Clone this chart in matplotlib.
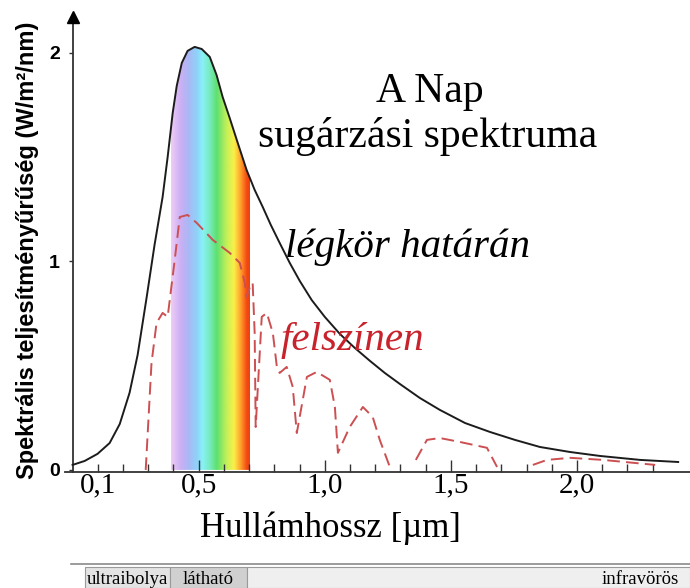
import matplotlib.pyplot as plt
import numpy as np
from matplotlib.colors import LinearSegmentedColormap

# wavelength in µm, spectral irradiance in W/m^2/nm (top of atmosphere)
top_wl = [0.000, 0.048, 0.099, 0.147, 0.187, 0.226, 0.258, 0.294, 0.325, 0.357, 0.377,
          0.397, 0.413, 0.433, 0.456, 0.484, 0.512, 0.544, 0.571, 0.595, 0.623, 0.651,
          0.690, 0.722, 0.754, 0.786, 0.821, 0.861, 0.901, 0.948, 1.000, 1.060, 1.119,
          1.179, 1.238, 1.298, 1.377, 1.456, 1.556, 1.655, 1.754, 1.853, 1.972, 2.091,
          2.250, 2.401]
top_val = [0.024, 0.043, 0.077, 0.129, 0.220, 0.370, 0.552, 0.830, 1.079, 1.309, 1.501,
           1.712, 1.842, 1.952, 2.010, 2.029, 2.019, 1.981, 1.894, 1.789, 1.688, 1.583,
           1.439, 1.343, 1.261, 1.175, 1.089, 0.993, 0.906, 0.815, 0.734, 0.652, 0.585,
           0.523, 0.465, 0.412, 0.345, 0.288, 0.225, 0.182, 0.144, 0.110, 0.086, 0.067,
           0.048, 0.038]

# surface curve, NaN marks the absorption gaps
surf_wl = [0.290, 0.313, 0.333, 0.357, 0.377, 0.405, 0.425, 0.456, 0.492, 0.556, 0.623,
           0.663, 0.683, 0.690, 0.706, 0.714, 0.722, 0.726, 0.750, 0.770, 0.794, 0.810,
           0.821, 0.849, 0.873, 0.889, 0.929, 0.968, 1.020, 1.040, 1.052, 1.099, 1.151,
           1.190, 1.218, 1.258, 1.30,
           1.361, 1.405, 1.456, 1.536, 1.643, 1.683, 1.75,
           1.825, 1.881, 1.972, 2.103, 2.310]
surf_val = [0.0, 0.513, 0.705, 0.753, 0.734, 1.007, 1.213, 1.223, 1.185, 1.103, 1.041,
            0.993, 0.897, 0.830, 0.887, 0.897, 0.657, 0.206, 0.734, 0.753, 0.657, 0.494,
            0.465, 0.494, 0.398, 0.177, 0.446, 0.470, 0.432, 0.302, 0.082, 0.206, 0.302,
            0.254, 0.144, 0.014, np.nan,
            0.048, 0.144, 0.153, 0.134, 0.106, 0.014, np.nan,
            0.024, 0.048, 0.058, 0.048, 0.024]

x_tick_pos = [0.1, 0.5, 1.0, 1.5, 2.0]
x_tick_lab = ['0,1', '0,5', '1,0', '1,5', '2,0']
y_tick_pos = [0, 1, 2]

band_names = ['ultraibolya', 'látható', 'infravörös']
band_edges = [0.05, 0.385, 0.69, 2.448]
band_colors = ['#e4e4e4', '#d0d0d0', '#efefef']
band_label_x = [0.2175, 0.5375, 2.25]

visible = (0.39, 0.70)
rainbow = [(0.0, '#efcdf6'), (0.12, '#cbb0f3'), (0.22, '#aab8f5'), (0.33, '#8ed2f9'),
           (0.40, '#88f2f6'), (0.48, '#7aecc8'), (0.58, '#5ee070'), (0.71, '#c6f058'),
           (0.80, '#fbf048'), (0.89, '#ff9a2a'), (0.96, '#f44a12'), (1.0, '#f0400c')]

serif = 'Liberation Serif'
sans = 'Liberation Sans'

fig = plt.figure(figsize=(6.9, 5.88), dpi=100)
ax = fig.add_axes([65 / 690, 116 / 588, 625 / 690, 457 / 588])
ax.set_xlim(-0.03, 2.448)
ax.set_ylim(-0.01, 2.182)

# rainbow fill under the curve in the visible range
cmap = LinearSegmentedColormap.from_list('vis', rainbow)
grad = np.linspace(0, 1, 256)[None, :]
im = ax.imshow(grad, cmap=cmap, aspect='auto', extent=[visible[0], visible[1], 0, 2.1],
               zorder=1, interpolation='bilinear')
clip = ax.fill_between(top_wl, top_val, 0, color='none', zorder=0)
im.set_clip_path(clip.get_paths()[0], transform=ax.transData)

ax.plot(top_wl, top_val, color='#1c1c1c', lw=1.4, zorder=3)
ax.plot(surf_wl, surf_val, color='#cc4f52', lw=1.4, ls=(0, (6.5, 3.2)), zorder=3)

# axes styling
for s in ['top', 'right']:
    ax.spines[s].set_visible(False)
ax.spines['left'].set_position(('data', 0))
ax.spines['left'].set_color('#333333')
ax.spines['left'].set_linewidth(1.3)
ax.spines['bottom'].set_color('#333333')
ax.spines['bottom'].set_linewidth(1.3)
ax.plot(0, 0.995, marker='^', color='black', markersize=9, transform=ax.get_xaxis_transform(),
        clip_on=False, zorder=5)

ax.set_xticks(x_tick_pos)
ax.set_xticklabels(x_tick_lab, fontsize=21, family=serif)
ax.set_xticks(np.arange(0.2, 2.35, 0.1), minor=True)
ax.tick_params(axis='x', which='major', direction='in', length=8.6, width=1, pad=0,
               color='#333333')
ax.tick_params(axis='x', which='minor', direction='in', length=5.8, width=1, color='#333333')
ax.xaxis.get_major_ticks()[0].tick1line.set_markersize(5.8)

ax.set_yticks(y_tick_pos)
ax.set_yticklabels([str(v) for v in y_tick_pos], fontsize=14, fontweight='bold', family=sans)
ax.tick_params(axis='y', direction='out', length=3, width=1, pad=6, color='#333333')

fig.text(28 / 690, 1 - 250 / 588, 'Spektrális teljesítményűrűség (W/m²/nm)',
         rotation=90, ha='center', va='center', fontsize=17, fontweight='bold', family=sans)
fig.text(330 / 690, 51 / 588, 'Hullámhossz [µm]', ha='center', va='baseline',
         fontsize=25, family=serif)

ax.text(1.417, 1.765, 'A Nap', ha='center', va='baseline', fontsize=30, family=serif)
ax.text(1.409, 1.549, 'sugárzási spektruma', ha='center', va='baseline', fontsize=30,
        family=serif)
ax.text(1.329, 1.022, 'légkör határán', ha='center', va='baseline', fontsize=29.5,
        family=serif, style='italic')
ax.text(1.111, 0.576, 'felszínen', ha='center', va='baseline', fontsize=29.5,
        family=serif, style='italic', color='#c8232c')

# region band below the chart
bax = fig.add_axes([65 / 690, 0, 625 / 690, 25 / 588])
bax.set_xlim(-0.03, 2.448)
bax.set_ylim(0, 1)
bax.axis('off')
bax.axhline(0.96, color='#8a8a8a', lw=1.2, xmin=0.01)
for name, x0, x1, c, lx in zip(band_names, band_edges[:-1], band_edges[1:], band_colors,
                               band_label_x):
    bax.add_patch(plt.Rectangle((x0, 0), x1 - x0, 0.86, facecolor=c, edgecolor='#9a9a9a',
                                lw=0.8))
    bax.text(lx, 0.16, name, ha='center', va='baseline', fontsize=13.5, family=serif)

fig.savefig('out.png', dpi=100)
